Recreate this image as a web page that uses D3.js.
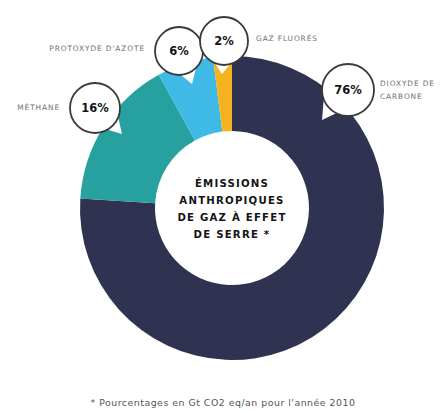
<!DOCTYPE html>
<html>
<head>
<meta charset="utf-8">
<script src="https://cdn.jsdelivr.net/npm/d3@7"></script>
<style>
  html, body { margin: 0; padding: 0; background: #fff; }
  svg { display: block; }
</style>
</head>
<body>
<svg id="chart" width="440" height="411"></svg>
<script>
// Greenhouse gas shares (% of Gt CO2 eq / year, 2010)
const gases = ["DIOXYDE DE CARBONE", "MÉTHANE", "PROTOXYDE D'AZOTE", "GAZ FLUORÉS"];
const shares = [76, 16, 6, 2];
const gasColors = ["#2f3250", "#27a19f", "#3fbae6", "#f5b41f"];
const centreTitle = ["ÉMISSIONS", "ANTHROPIQUES", "DE GAZ À EFFET", "DE SERRE *"];
const footnote = "* Pourcentages en Gt CO2 eq/an pour l'année 2010";

// Callout layout: bubble centre, radius, tail (base angles in degrees, apex offset),
// and where the gas name sits.
const callouts = [
  { cx: 348, cy: 90, r: 26, a0: 117, a1: 159, tip: [-26, 30],
    name: ["DIOXYDE DE", "CARBONE"], nx: 380, ny: 86, anchor: "start" },
  { cx: 95, cy: 108, r: 25, a0: 22, a1: 60, tip: [27, 26],
    name: ["MÉTHANE"], nx: 60, ny: 110, anchor: "end" },
  { cx: 179, cy: 51, r: 24, a0: 45, a1: 85, tip: [13, 33],
    name: ["PROTOXYDE D'AZOTE"], nx: 145, ny: 51, anchor: "end" },
  { cx: 224, cy: 41, r: 24, a0: 75, a1: 112, tip: [-2, 33],
    name: ["GAZ FLUORÉS"], nx: 256, ny: 41, anchor: "start" }
];

const svg = d3.select("#chart");
const cx = 232, cy = 208, outerR = 152, innerR = 77;

const pie = d3.pie().sort(null).value(d => d)(shares);
const arc = d3.arc().innerRadius(innerR).outerRadius(outerR);

const ring = svg.append("g").attr("transform", `translate(${cx},${cy})`);
ring.selectAll("path")
  .data(pie)
  .join("path")
  .attr("d", arc)
  .attr("fill", (d, i) => gasColors[i]);

// centre title
const title = svg.append("text")
  .attr("x", cx)
  .attr("text-anchor", "middle")
  .attr("font-family", "'DejaVu Sans', sans-serif")
  .attr("font-weight", "bold")
  .attr("font-size", 10.2)
  .attr("letter-spacing", 1.2)
  .attr("fill", "#141414");
centreTitle.forEach((line, i) => {
  title.append("tspan").attr("x", cx).attr("y", 187 + i * 17).text(line);
});

// callout bubbles with their tails
const rad = Math.PI / 180;
const bubble = svg.selectAll("g.callout")
  .data(callouts)
  .join("g")
  .attr("class", "callout");

bubble.append("path")
  .attr("d", d => {
    const p0 = [d.cx + d.r * Math.cos(d.a0 * rad), d.cy + d.r * Math.sin(d.a0 * rad)];
    const p1 = [d.cx + d.r * Math.cos(d.a1 * rad), d.cy + d.r * Math.sin(d.a1 * rad)];
    const tip = [d.cx + d.tip[0], d.cy + d.tip[1]];
    return `M${p0}L${tip}L${p1}L${d.cx},${d.cy}Z`;
  })
  .attr("fill", "#fff");

bubble.append("circle")
  .attr("cx", d => d.cx)
  .attr("cy", d => d.cy)
  .attr("r", d => d.r)
  .attr("fill", "#fff")
  .attr("stroke", "#3a3a3a")
  .attr("stroke-width", 1.8);

bubble.append("text")
  .attr("x", d => d.cx)
  .attr("y", d => d.cy + 4)
  .attr("text-anchor", "middle")
  .attr("font-family", "'DejaVu Sans', sans-serif")
  .attr("font-weight", "bold")
  .attr("font-size", 11.5)
  .attr("fill", "#141414")
  .text((d, i) => shares[i] + "%");

const names = bubble.append("text")
  .attr("text-anchor", d => d.anchor)
  .attr("font-family", "'DejaVu Sans', sans-serif")
  .attr("font-size", 7.4)
  .attr("letter-spacing", 0.9)
  .attr("fill", "#707070");
names.each(function (d) {
  d3.select(this).selectAll("tspan")
    .data(d.name)
    .join("tspan")
    .attr("x", d.nx)
    .attr("y", (t, j) => d.ny + j * 13)
    .text(t => t);
});

// footnote
svg.append("text")
  .attr("x", 223)
  .attr("y", 406)
  .attr("text-anchor", "middle")
  .attr("font-family", "'DejaVu Sans', sans-serif")
  .attr("font-size", 9.4)
  .attr("letter-spacing", 0.5)
  .attr("fill", "#555")
  .text(footnote);
</script>
</body>
</html>
